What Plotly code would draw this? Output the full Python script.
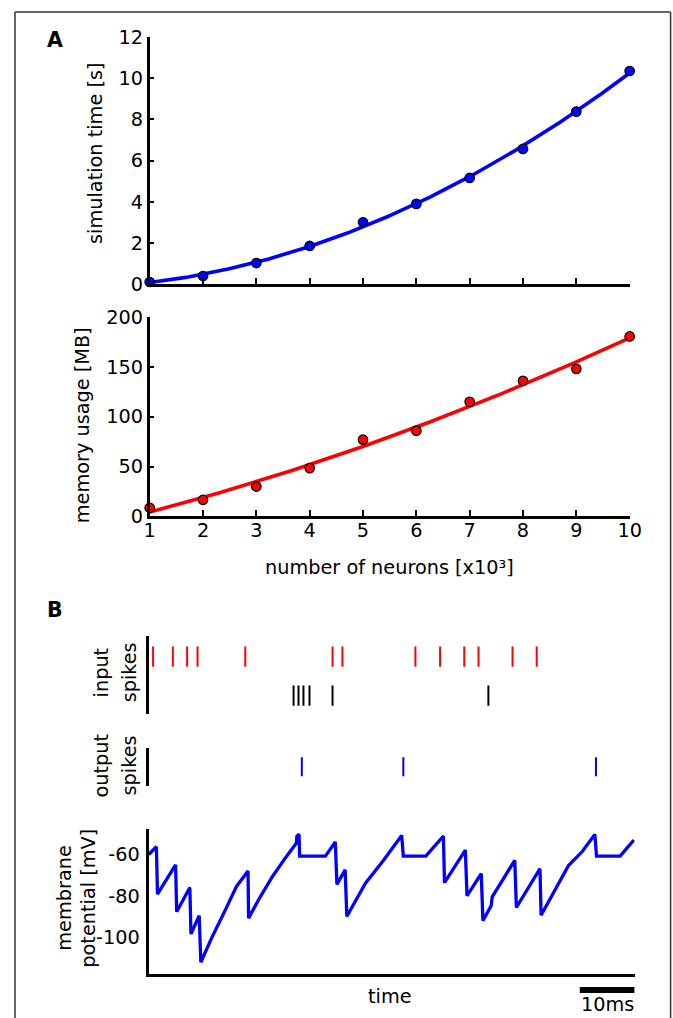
import numpy as np
import plotly.graph_objects as go

# ---------------- data ----------------
n_neurons = [1, 2, 3, 4, 5, 6, 7, 8, 9, 10]            # x10^3
sim_time = [0.11, 0.40, 1.03, 1.86, 3.01, 3.90, 5.16, 6.57, 8.38, 10.35]   # s
memory_mb = [8.7, 16.7, 30.0, 48.5, 77.0, 86.0, 115.0, 136.0, 148.0, 180.5]  # MB

sim_ticks = [0, 2, 4, 6, 8, 10, 12]
mem_ticks = [0, 50, 100, 150, 200]
mv_ticks = [-60, -80, -100]
mv_ticklabels = ["-60", "-80", "-100"]

# spike times (ms)
inh_spikes = [0.8, 4.4, 7.0, 8.9, 17.6, 33.5, 35.3, 48.6, 53.1, 57.5, 60.1, 66.3, 70.7]
exc_spikes = [26.4, 27.3, 28.2, 29.3, 33.5, 61.9]
out_spikes = [27.9, 46.4, 81.5]

# membrane potential trace vertices (ms, mV)
vm_t = [0.0, 1.4, 1.6, 4.9, 5.1, 7.5, 7.7, 9.2, 9.5, 11.5, 13.7, 16.0, 18.1, 18.2,
        20.0, 22.5, 25.0, 26.9, 27.0, 27.4, 27.5, 32.2, 34.0, 34.3, 35.8, 36.1,
        39.5, 42.8, 46.1, 46.4, 50.5, 53.7, 53.9, 57.7, 58.0, 60.6, 60.9, 62.4,
        62.6, 66.7, 67.0, 71.3, 71.5, 74.0, 76.5, 79.0, 81.3, 81.6, 85.9, 88.4]
vm_v = [-60.2, -56.5, -79.2, -65.2, -87.6, -76.0, -98.3, -89.5, -111.8, -100.0, -88.2, -75.5, -68.1, -90.7,
        -82.0, -71.0, -61.5, -54.8, -51.5, -50.5, -61.0, -61.0, -54.2, -74.5, -67.6, -89.9,
        -74.0, -63.0, -51.1, -61.0, -61.0, -51.4, -73.7, -58.1, -80.0, -69.4, -91.9, -84.8,
        -80.5, -63.0, -85.6, -67.0, -89.3, -77.5, -65.5, -58.8, -50.6, -61.0, -61.0, -53.3]

scale_bar_ms = 10

# ---------------- layout helpers ----------------
# target positions are given in picture pixels; the capture maps page px -> picture px
# roughly as pic = off + k * page, so convert back to page px here.
KX, OXs = 0.976, 5.0
KY, OYs = 0.977, 11.0
W, H = 690, 1042

def px(s):
    return ((s - OXs) / KX) / W
def py(s):
    return 1 - ((s - OYs) / KY) / H

FONT = "DejaVu Sans, Arial, sans-serif"
fsz = 19.3

# polynomial fits from the data
xf = np.linspace(1, 10, 200)
fit_t = np.polyval(np.polyfit(n_neurons, sim_time, 2), xf)
fit_m = np.polyval(np.polyfit(n_neurons, memory_mb, 2), xf)

fig = go.Figure()

fig.add_trace(go.Scatter(x=xf, y=fit_t, mode="lines", line=dict(color="#0000ff", width=3.6),
                         xaxis="x", yaxis="y", hoverinfo="skip", cliponaxis=False))
fig.add_trace(go.Scatter(x=n_neurons, y=sim_time, mode="markers",
                         marker=dict(color="#0000ff", size=9.5, line=dict(color="black", width=1.2)),
                         xaxis="x", yaxis="y", cliponaxis=False))
fig.add_trace(go.Scatter(x=xf, y=fit_m, mode="lines", line=dict(color="#ff0000", width=3.6),
                         xaxis="x2", yaxis="y2", hoverinfo="skip", cliponaxis=False))
fig.add_trace(go.Scatter(x=n_neurons, y=memory_mb, mode="markers",
                         marker=dict(color="#ff0000", size=9.5, line=dict(color="black", width=1.2)),
                         xaxis="x2", yaxis="y2", cliponaxis=False))
fig.add_trace(go.Scatter(x=inh_spikes, y=[2] * len(inh_spikes), mode="markers",
                         marker=dict(symbol="line-ns", size=14.5, line=dict(color="#ff0000", width=2)),
                         xaxis="x3", yaxis="y3"))
fig.add_trace(go.Scatter(x=exc_spikes, y=[1] * len(exc_spikes), mode="markers",
                         marker=dict(symbol="line-ns", size=14.5, line=dict(color="black", width=2)),
                         xaxis="x3", yaxis="y3"))
fig.add_trace(go.Scatter(x=out_spikes, y=[0.5] * len(out_spikes), mode="markers",
                         marker=dict(symbol="line-ns", size=13.5, line=dict(color="#0000ff", width=2)),
                         xaxis="x4", yaxis="y4"))
fig.add_trace(go.Scatter(x=vm_t, y=vm_v, mode="lines", line=dict(color="#0000ff", width=3.3),
                         xaxis="x5", yaxis="y5", cliponaxis=False))

tickfont = dict(family=FONT, size=fsz, color="black")
common_hidden = dict(showgrid=False, zeroline=False, showticklabels=False, ticks="", showline=False)

xa_dom = [px(149), px(630)]
xb_dom = [px(148), px(635)]

fig.update_layout(
    width=W, height=H,
    margin=dict(l=0, r=0, t=0, b=0),
    paper_bgcolor="white", plot_bgcolor="white",
    showlegend=False,
    font=dict(family=FONT, size=fsz, color="black"),
    xaxis=dict(domain=xa_dom, range=[1, 10], anchor="y", tickvals=n_neurons, showticklabels=False,
               ticks="inside", ticklen=6, tickwidth=2, tickcolor="black",
               showline=True, linecolor="black", linewidth=3, showgrid=False, zeroline=False),
    yaxis=dict(domain=[py(284), py(37)], range=[0, 12], anchor="x", tickvals=sim_ticks,
               ticks="inside", ticklen=5, tickwidth=2, tickcolor="black", tickfont=tickfont,
               showline=True, linecolor="black", linewidth=2.5, showgrid=False, zeroline=False),
    xaxis2=dict(domain=xa_dom, range=[1, 10], anchor="y2", tickvals=n_neurons, tickfont=tickfont,
                ticks="inside", ticklen=6, tickwidth=2, tickcolor="black", ticklabelstandoff=-6,
                showline=True, linecolor="black", linewidth=3, showgrid=False, zeroline=False),
    yaxis2=dict(domain=[py(516), py(316.7)], range=[0, 200], anchor="x2", tickvals=mem_ticks,
                ticks="inside", ticklen=5, tickwidth=2, tickcolor="black", tickfont=tickfont,
                showline=True, linecolor="black", linewidth=2.5, showgrid=False, zeroline=False),
    xaxis3=dict(domain=xb_dom, range=[0, 88.55], anchor="y3", **common_hidden),
    yaxis3=dict(domain=[py(713), py(635)], range=[0.54, 2.54], anchor="x3",
                showgrid=False, zeroline=False, showticklabels=False, ticks="",
                showline=True, linecolor="black", linewidth=3),
    xaxis4=dict(domain=xb_dom, range=[0, 88.55], anchor="y4", **common_hidden),
    yaxis4=dict(domain=[py(785), py(747)], range=[0, 1], anchor="x4",
                showgrid=False, zeroline=False, showticklabels=False, ticks="",
                showline=True, linecolor="black", linewidth=3),
    xaxis5=dict(domain=xb_dom, range=[0, 88.55], anchor="y5", showgrid=False, zeroline=False,
                showticklabels=False, ticks="", showline=True, linecolor="black", linewidth=3),
    yaxis5=dict(domain=[py(973), py(828)], range=[-117.4, -47.9], anchor="x5",
                tickvals=mv_ticks, ticktext=mv_ticklabels, ticks="", tickfont=tickfont,
                ticklabelstandoff=2,
                showgrid=False, zeroline=False, showline=True, linecolor="black", linewidth=3),
)

def ann(text, x, y, angle=0, size=fsz, bold=False, family=FONT):
    if bold:
        text = "<b>" + text + "</b>"
    fig.add_annotation(text=text, x=px(x), y=py(y), xref="paper", yref="paper",
                       showarrow=False, textangle=angle, xanchor="center", yanchor="middle",
                       font=dict(family=family, size=size, color="black"))

ann("A", 54, 40, size=20.5, bold=True)
ann("B", 54, 609, size=20.5, bold=True)
ann("simulation time [s]", 94, 153, angle=-90)
ann("memory usage [MB]", 82, 425, angle=-90)
ann("number of neurons [x10³]", 389.5, 567)
ann("input", 101, 672, angle=-90)
ann("spikes", 129, 672, angle=-90)
ann("output", 101, 765, angle=-90)
ann("spikes", 129, 765, angle=-90)
ann("membrane", 64, 897, angle=-90)
ann("potential [mV]", 88, 897, angle=-90)
ann("time", 390, 996)

t_end = 88.55
fig.add_shape(type="line", xref="x5", yref="paper", x0=t_end - scale_bar_ms, x1=t_end,
              y0=py(989), y1=py(989), line=dict(color="black", width=6))
fig.add_annotation(text="10ms", x=t_end - scale_bar_ms / 2, y=py(1004), xref="x5", yref="paper",
                   showarrow=False, xanchor="center", yanchor="middle",
                   font=dict(family=FONT, size=fsz, color="black"))

# outer frame: left, top, right edges (bottom is cut off in the original)
frame = dict(color="#333333", width=1.5)
top_y = 1 - 1.0 / H
fig.add_shape(type="line", xref="paper", yref="paper", x0=px(14), x1=px(14), y0=0, y1=top_y, line=frame)
fig.add_shape(type="line", xref="paper", yref="paper", x0=px(14), x1=px(671), y0=top_y, y1=top_y, line=frame)
fig.add_shape(type="line", xref="paper", yref="paper", x0=px(671), x1=px(671), y0=0, y1=top_y, line=frame)

fig.write_html("out.html", config={"displayModeBar": False},
               post_script="document.body.style.margin='0';document.body.style.padding='0';"
                           "document.documentElement.style.overflow='hidden';"
                           "document.body.style.overflow='hidden';")
